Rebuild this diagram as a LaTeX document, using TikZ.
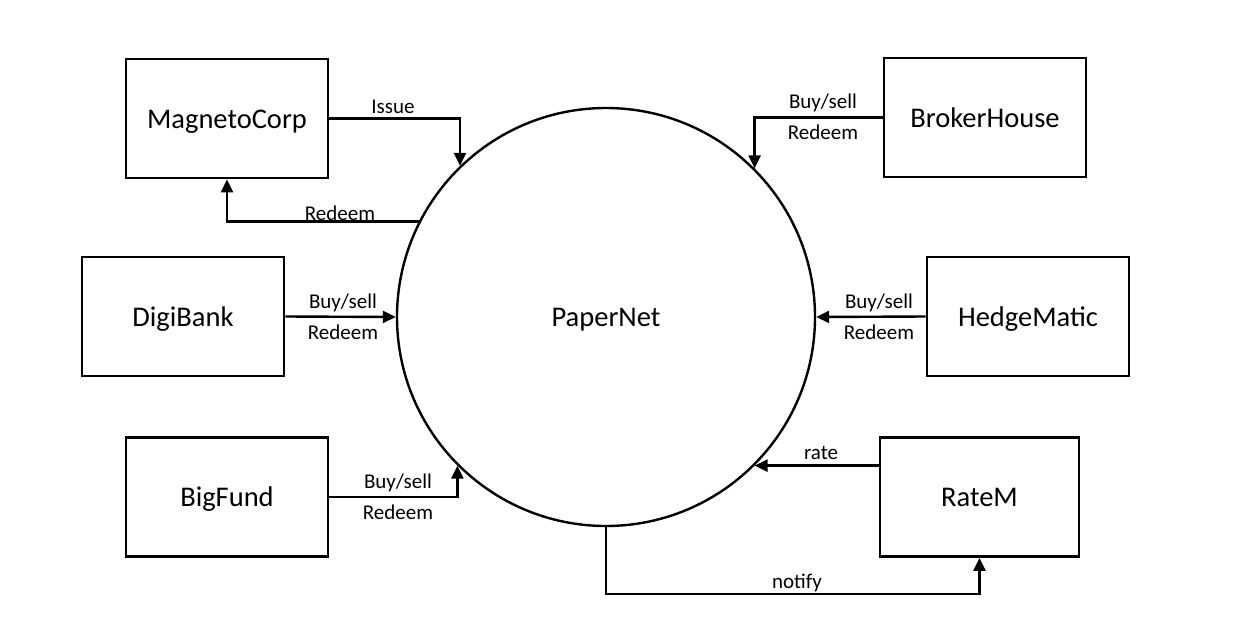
\documentclass[tikz,border=0pt]{standalone}
\usepackage{fontspec}
\setmainfont{Carlito}
\usetikzlibrary{arrows.meta,calc}
\begin{document}
\begin{tikzpicture}[x=1pt,y=-1pt,
  boxnode/.style={draw,line width=2.8pt,minimum width=202pt,minimum height=119pt,inner sep=0pt,text height=19pt,text depth=0pt,font=\fontsize{28.5}{34}\selectfont},
  conn/.style={line width=2.4pt,-{Triangle[length=13pt,width=12pt]}},
  lbl/.style={font=\fontsize{21}{25}\selectfont,inner sep=0pt,anchor=base}]
\useasboundingbox[fill=white] (0,0) rectangle (1234,618);
\node[draw,circle,line width=2.4pt,minimum size=418pt,inner sep=0pt,text height=19pt,text depth=0pt,font=\fontsize{28.5}{34}\selectfont] (pn) at (606,317) {PaperNet};
\node[boxnode] (mc) at (227,118.5) {MagnetoCorp};
\node[boxnode] (bh) at (985,117.5) {BrokerHouse};
\node[boxnode] (db) at (183,316.5) {DigiBank};
\node[boxnode] (hm) at (1028,316.5) {HedgeMatic};
\node[boxnode] (bf) at (227,497) {BigFund};
\node[boxnode,minimum width=199pt] (rm) at (979.5,497) {RateM};
% connectors
\draw[conn] (mc.east) -| (pn.134.6);
\draw[conn] (pn.153.6) -| (mc.south);
\draw[conn] (bh.west) -| (pn.45.6);
\draw[conn] (db.east) -- (pn.west);
\draw[conn] (hm.west) -- (pn.east);
\draw[conn] (bf.east) -| (pn.225.6);
\draw[conn] (pn.315.3 -| rm.west) -- (pn.315.3);
\coordinate (nb) at ($(pn.south)+(0,67)$);
\draw[conn] (pn.south) -- (nb) -| (rm.south);
% labels
\node[lbl] (l1) at (393,113) {Issue};
\node[lbl] (l2) at (340,220) {Redeem};
\node[lbl] (l3) at (823,108) {Buy/sell};
\node[lbl] (l4) at (823,139) {Redeem};
\node[lbl] (l5) at (343,308) {Buy/sell};
\node[lbl] (l6) at (343,339) {Redeem};
\node[lbl] (l7) at (879,308) {Buy/sell};
\node[lbl] (l8) at (879,339) {Redeem};
\node[lbl] (l9) at (398,488) {Buy/sell};
\node[lbl] (l10) at (398,519) {Redeem};
\node[lbl] (l11) at (821,459) {rate};
\node[lbl] (l12) at (797,588) {notify};
\end{tikzpicture}
\end{document}
